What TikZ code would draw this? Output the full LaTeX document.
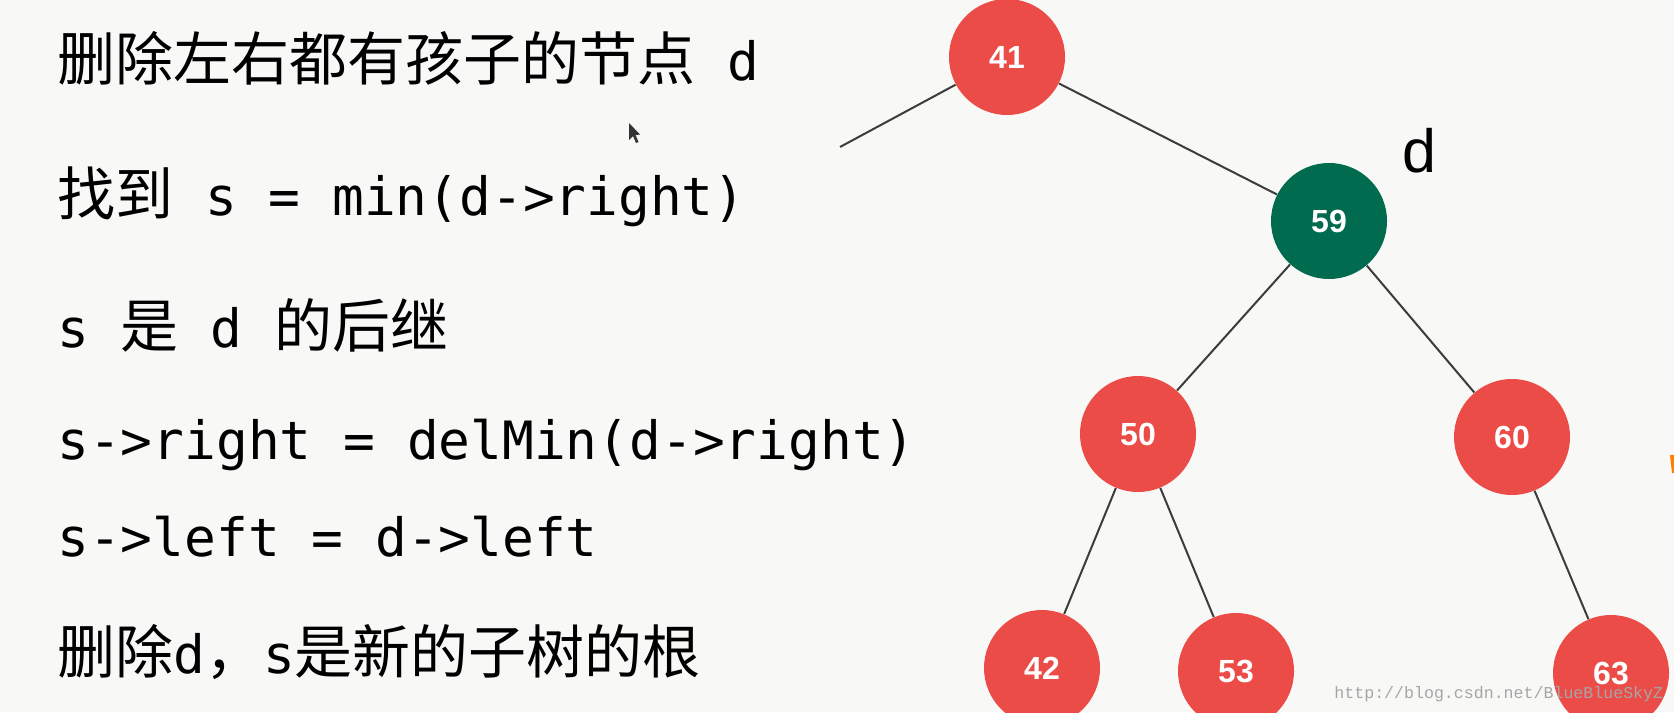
\documentclass[tikz,border=0pt]{standalone}
\usepackage{fontspec}
\setmonofont{DejaVu Sans Mono}
\setsansfont{Liberation Sans}
\newfontfamily\cjk{Noto Sans CJK SC}
\newfontfamily\wmfont{Liberation Mono}
\newfontfamily\labfont{Liberation Sans}
\newcommand\zh[1]{{\fontsize{29}{32}\selectfont\cjk #1}}
\definecolor{bg}{RGB}{248,248,247}
\definecolor{rbred}{RGB}{236,76,72}
\definecolor{rbgreen}{RGB}{0,107,78}
\definecolor{edgegray}{RGB}{60,60,60}
\tikzset{
  treenode/.style={circle, minimum size=58pt, inner sep=0pt, fill=rbred, text=white,
    font=\sffamily\bfseries\fontsize{16}{18}\selectfont},
  dnode/.style={treenode, fill=rbgreen},
  codeline/.style={anchor=base west, inner sep=0pt, text=black,
    font=\ttfamily\fontsize{26.4}{30}\selectfont},
  treeedge/.style={draw=edgegray, line width=1pt}
}
\begin{document}
\begin{tikzpicture}[x=0.5pt,y=-0.5pt]
\path[use as bounding box, fill=bg] (0,0) rectangle (1674,712);
\clip (0,0) rectangle (1674,712);

% text lines
\node[codeline] (l1) at (57,80) {\zh{删除左右都有孩子的节点} d};
\node[codeline] (l2) at (57,215) {\zh{找到} s = min(d->right)};
\node[codeline] (l3) at (57,347) {s \zh{是} d \zh{的后继}};
\node[codeline] (l4) at (57,459) {s->right = delMin(d->right)};
\node[codeline] (l5) at (57,556) {s->left = d->left};
\node[codeline] (l6) at (57,673) {\zh{删除}d\zh{，}s\zh{是新的子树的根}};

% tree nodes
\node[treenode] (n41) at (1007,57) {41};
\node[dnode] (n59) at (1329,221) {59};
\node[treenode] (n50) at (1138,434) {50};
\node[treenode] (n60) at (1512,437) {60};
\node[treenode] (n42) at (1042,668) {42};
\node[treenode] (n53) at (1236,671) {53};
\node[treenode] (n63) at (1611,673) {63};
\coordinate (lfree) at (840,147);

% edges
\draw[treeedge] (n41) -- (lfree);
\draw[treeedge] (n41) -- (n59);
\draw[treeedge] (n59) -- (n50);
\draw[treeedge] (n59) -- (n60);
\draw[treeedge] (n50) -- (n42);
\draw[treeedge] (n50) -- (n53);
\draw[treeedge] (n60) -- (n63);

% label d
\node[anchor=base, inner sep=0pt, font=\labfont\fontsize{30.5}{32}\selectfont] (dlab) at (1419,172) {d};

% mouse cursor
\fill[black!80] (629,123) -- (629,140) -- (633,136) -- (636,143) -- (638.5,142) -- (635.5,135) -- (640,134.5) -- cycle;

% orange sliver at right edge
\draw[orange, line width=2pt] (1672,455) -- (1674,473);

% watermark
\node[anchor=base west, inner sep=0pt, text=black!35, font=\wmfont\fontsize{8.3}{9}\selectfont] (wm) at (1334,698) {http://blog.csdn.net/BlueBlueSkyZ};
\end{tikzpicture}
\end{document}
